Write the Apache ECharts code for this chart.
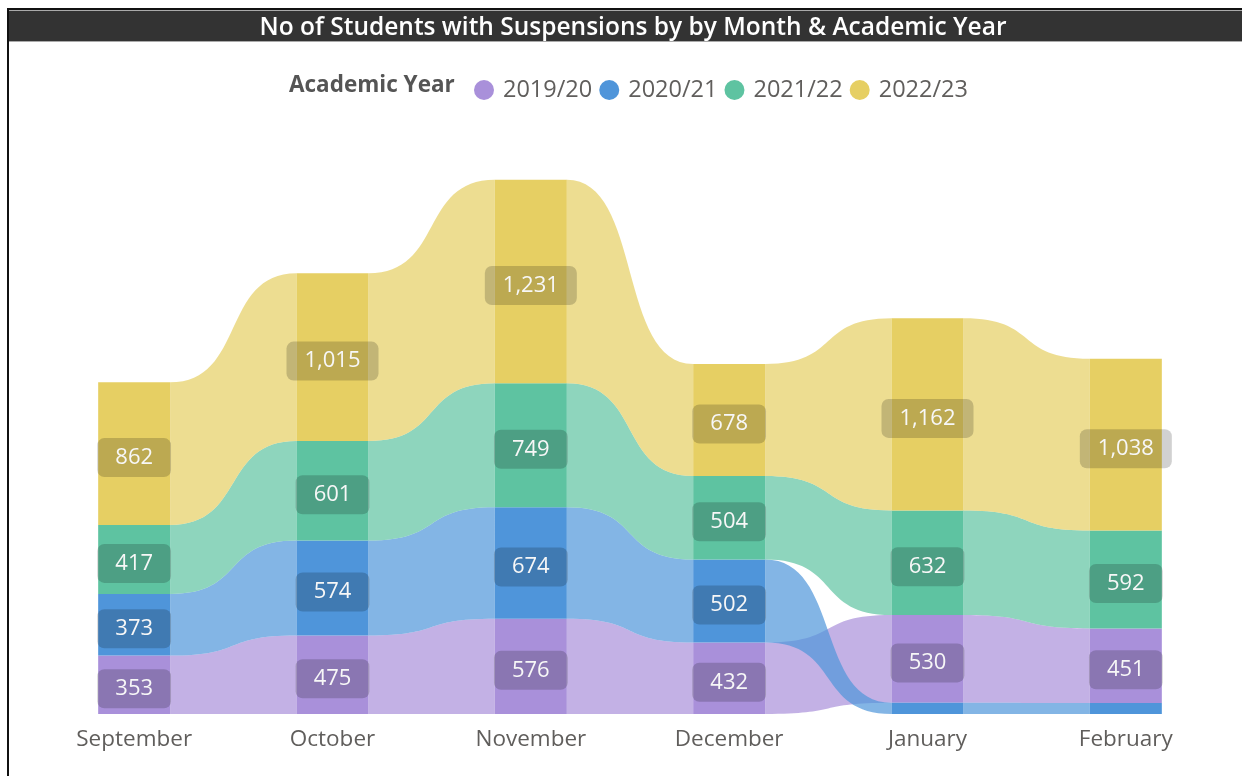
<!DOCTYPE html>
<html>
<head>
<meta charset="utf-8">
<script src="https://cdn.jsdelivr.net/npm/echarts@6/dist/echarts.min.js"></script>
<style>
  html, body { margin: 0; padding: 0; background: #fff; }
  #chart { width: 1242px; height: 776px; }
</style>
</head>
<body>
<div id="chart"></div>
<script>
// data
const months = ['September', 'October', 'November', 'December', 'January', 'February'];
const years = ['2019/20', '2020/21', '2021/22', '2022/23'];
const y2019 = [353, 475, 576, 432, 530, 451];
const y2020 = [373, 574, 674, 502, 68, 66];
const y2021 = [417, 601, 749, 504, 632, 592];
const y2022 = [862, 1015, 1231, 678, 1162, 1038];

const values = [y2019, y2020, y2021, y2022];
const colors = ['#A990DA', '#4F95DA', '#5EC3A1', '#E6CF63'];
const FONT = '"Open Sans", "Noto Sans", sans-serif';
const BAR_RATIO = 0.363;

// ribbon chart: inside each month the smallest value sits at the bottom
function stackBottom(s, i) {
    const v = values[s][i];
    let sum = 0;
    for (let t = 0; t < values.length; t++) {
        const w = values[t][i];
        if (w < v || (w === v && t < s)) sum += w;
    }
    return sum;
}

function ribbonItem(s) {
    return function (params, api) {
        const i = params.dataIndex;
        if (i >= months.length - 1) return {type: 'group', children: []};
        const barW = api.size([1, 0])[0] * BAR_RATIO;
        const b0 = stackBottom(s, i), b1 = stackBottom(s, i + 1);
        const x0 = api.coord([i, 0])[0] + barW / 2;
        const x1 = api.coord([i + 1, 0])[0] - barW / 2;
        const t0 = api.coord([i, b0 + values[s][i]])[1];
        const bt0 = api.coord([i, b0])[1];
        const t1 = api.coord([i + 1, b1 + values[s][i + 1]])[1];
        const bt1 = api.coord([i + 1, b1])[1];
        const k = (x1 - x0) * 0.6;
        const d = 'M' + x0 + ',' + t0 +
            ' C' + (x0 + k) + ',' + t0 + ' ' + (x1 - k) + ',' + t1 + ' ' + x1 + ',' + t1 +
            ' L' + x1 + ',' + bt1 +
            ' C' + (x1 - k) + ',' + bt1 + ' ' + (x0 + k) + ',' + bt0 + ' ' + x0 + ',' + bt0 + ' Z';
        return {
            type: 'path',
            shape: {pathData: d},
            style: {fill: colors[s], opacity: 0.7}
        };
    };
}

function barItem(s) {
    return function (params, api) {
        const i = params.dataIndex;
        const v = values[s][i];
        const barW = api.size([1, 0])[0] * BAR_RATIO;
        const b = stackBottom(s, i);
        const cx = api.coord([i, 0])[0];
        const top = api.coord([i, b + v])[1];
        const bot = api.coord([i, b])[1];
        const children = [{
            type: 'rect',
            shape: {x: cx - barW / 2, y: top, width: barW, height: bot - top},
            style: {fill: colors[s]}
        }];
        if (bot - top > 40) {
            children.push({
                type: 'text',
                z2: 10,
                x: cx,
                y: (top + bot) / 2 + 4,
                style: {
                    text: v.toLocaleString('en-US'),
                    fill: '#f7f7f7',
                    fontSize: 22,
                    fontFamily: FONT,
                    align: 'center',
                    verticalAlign: 'middle',
                    backgroundColor: 'rgba(0,0,0,0.18)',
                    padding: [9, 18, 8, 18],
                    borderRadius: 7
                }
            });
        }
        return {type: 'group', children: children};
    };
}

const series = [];
years.forEach(function (name, s) {
    series.push({
        name: name,
        type: 'custom',
        z: 1,
        itemStyle: {color: colors[s]},
        renderItem: ribbonItem(s),
        encode: {x: 0, y: 1},
        data: values[s].map(function (v, i) { return [i, v]; })
    });
});
years.forEach(function (name, s) {
    series.push({
        name: name,
        type: 'custom',
        z: 2,
        itemStyle: {color: colors[s]},
        renderItem: barItem(s),
        encode: {x: 0, y: 1},
        data: values[s].map(function (v, i) { return [i, v]; })
    });
});

const chart = echarts.init(document.getElementById('chart'));
chart.setOption({
    animation: false,
    backgroundColor: '#fff',
    grid: {left: 35, right: 17, top: 135, bottom: 62},
    legend: {
        data: years,
        left: 469,
        top: 73,
        icon: 'circle',
        itemWidth: 20,
        itemHeight: 20,
        itemGap: 7,
        textStyle: {color: '#605E5C', fontSize: 23.5, fontFamily: FONT, padding: [0, 0, 0, 4]}
    },
    xAxis: {
        type: 'category',
        data: months,
        axisLine: {show: false},
        axisTick: {show: false},
        axisLabel: {color: '#605E5C', fontSize: 22.5, fontFamily: FONT, margin: 14}
    },
    yAxis: {
        type: 'value',
        min: 0,
        max: 3500,
        show: false,
        splitLine: {show: false}
    },
    graphic: [
        {type: 'rect', shape: {x: 7, y: 8, width: 1235, height: 2}, style: {fill: '#111'}},
        {type: 'rect', shape: {x: 9, y: 10, width: 1233, height: 32}, style: {fill: '#aaa'}},
        {type: 'rect', shape: {x: 9, y: 11, width: 1233, height: 30}, style: {fill: '#333'}},
        {type: 'rect', shape: {x: 7, y: 8, width: 2, height: 768}, style: {fill: '#111'}},
        {
            type: 'text', x: 633, y: 28,
            style: {
                text: 'No of Students with Suspensions by by Month & Academic Year',
                fill: '#fff', fontSize: 24.5, fontWeight: 600, fontFamily: FONT,
                align: 'center', verticalAlign: 'middle'
            }
        },
        {
            type: 'text', x: 289, y: 86,
            style: {
                text: 'Academic Year',
                fill: '#555', fontSize: 22.5, fontWeight: 'bold', fontFamily: FONT,
                align: 'left', verticalAlign: 'middle'
            }
        }
    ],
    series: series
});
</script>
</body>
</html>
